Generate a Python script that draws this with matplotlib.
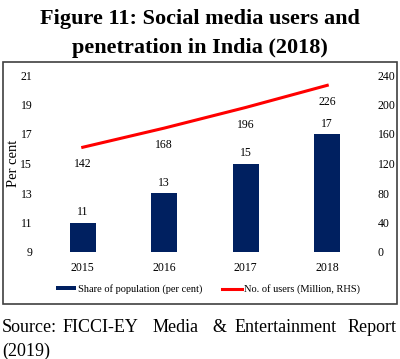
import matplotlib.pyplot as plt
from matplotlib.patches import Rectangle

plt.rcParams['font.family'] = ['Liberation Serif', 'DejaVu Serif']

# data
years = ['2015', '2016', '2017', '2018']
share_pct = [11, 13, 15, 17]
users_mn = [142, 168, 196, 226]
left_ticks = [9, 11, 13, 15, 17, 19, 21]
right_ticks = [0, 40, 80, 120, 160, 200, 240]

navy = '#002060'
red = '#ff0000'

fig = plt.figure(figsize=(4.0, 3.59), dpi=100)

# frame round the chart
fig.patches.append(Rectangle((3 / 400, 1 - 304 / 359), 394 / 400, 242 / 359,
                             transform=fig.transFigure, fill=False,
                             edgecolor='#404040', linewidth=1.2))

fig.text(0.5, 1 - 19 / 359, 'Figure 11: Social media users and',
         ha='center', va='center', fontsize=16, fontweight='bold')
fig.text(0.5, 1 - 48 / 359, 'penetration in India (2018)',
         ha='center', va='center', fontsize=16, fontweight='bold')

ax = fig.add_axes([42 / 400, 1 - 252 / 359, 326 / 400, 177 / 359])
x = list(range(len(years)))
bars = ax.bar(x, [v - 9 for v in share_pct], bottom=9, width=0.32,
              color=navy, label='Share of population (per cent)')
ax.set_xlim(-0.5, 3.5)
ax.set_ylim(9, 21)
ax.set_yticks(left_ticks)
ax.set_xticks(x)
ax.set_xticklabels(years)
ax.set_ylabel('Per cent', fontsize=10.5)
ax.yaxis.set_label_coords(-0.066, 0.5)
for i, v in enumerate(share_pct):
    ax.annotate(str(v), (i, v), xytext=(0, 3), textcoords='offset points',
                ha='center', va='bottom', fontsize=8.5)

ax2 = ax.twinx()
line, = ax2.plot(x, users_mn, color=red, linewidth=2.2,
                 label='No. of users (Million, RHS)')
ax2.set_ylim(0, 240)
ax2.set_yticks(right_ticks)
for i, v in enumerate(users_mn):
    ax2.annotate(str(v), (i, v), xytext=(0, -8), textcoords='offset points',
                 ha='center', va='top', fontsize=8.5)

for a in (ax, ax2):
    for s in a.spines.values():
        s.set_visible(False)
    a.tick_params(length=0, labelsize=8.5, pad=7)

fig.legend([bars, line], [bars.get_label(), line.get_label()],
           loc='center', bbox_to_anchor=(208 / 400, 1 - 289 / 359), ncol=2,
           frameon=False, fontsize=7.5, handlelength=2.0, handleheight=0.35,
           handletextpad=0.2, columnspacing=1.8)

# source line, spread over the width like the justified original
src_words = ['Source:', 'FICCI-EY', 'Media', '&', 'Entertainment', 'Report']
src_x = [2, 63, 153, 212, 235, 397]
for w, xp in zip(src_words, src_x):
    fig.text(xp / 400, 1 - 328 / 359, w, ha='right' if w == 'Report' else 'left',
             va='center', fontsize=13)
fig.text(2 / 400, 1 - 351 / 359, '(2019)', ha='left', va='center', fontsize=13)

fig.savefig('out.png', dpi=100)
